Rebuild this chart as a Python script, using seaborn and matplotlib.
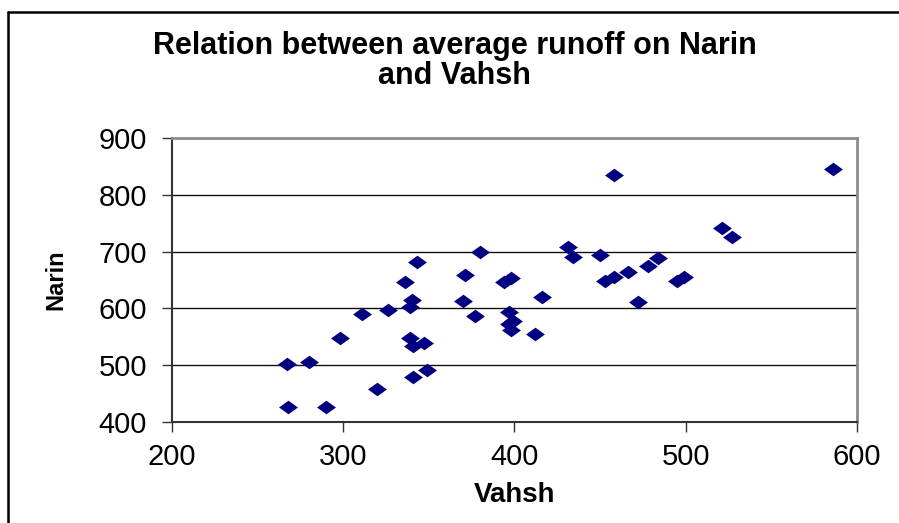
import numpy as np
import pandas as pd
import matplotlib
matplotlib.use("Agg")
import matplotlib.pyplot as plt
from matplotlib.lines import Line2D
import seaborn as sns

# average runoff values
vahsh = [267, 268, 280, 290, 298, 311, 320, 326, 336, 340, 339, 343, 339, 341, 347,
         341, 349, 371, 370, 380, 377, 394, 398, 397, 397, 399, 398, 412, 416, 431,
         434, 450, 458, 453, 458, 466, 472, 478, 484, 495, 499, 521, 527, 586]
narin = [502, 426, 505, 426, 547, 590, 458, 597, 646, 614, 603, 681, 547, 533, 539,
         479, 491, 658, 613, 699, 586, 647, 653, 594, 573, 577, 561, 554, 620, 709,
         690, 694, 836, 648, 656, 664, 611, 674, 688, 649, 656, 741, 725, 845]
x_ticks = [200, 300, 400, 500, 600]
y_ticks = [400, 500, 600, 700, 800, 900]

df = pd.DataFrame({"Vahsh": vahsh, "Narin": narin})

sns.set_style("white")
plt.rcParams["font.family"] = ["Liberation Sans", "DejaVu Sans"]
plt.rcParams["text.color"] = "black"
plt.rcParams["axes.labelcolor"] = "black"
plt.rcParams["xtick.color"] = "black"
plt.rcParams["ytick.color"] = "black"

fig = plt.figure(figsize=(8.99, 5.23), dpi=100)
ax = fig.add_axes([0.1913, 0.1937, 0.762, 0.5419])

diamond = [(-1, 0), (0, 0.72), (1, 0), (0, -0.72), (-1, 0)]
sns.scatterplot(data=df, x="Vahsh", y="Narin", ax=ax, marker=diamond, s=185,
                color="#000080", linewidth=0, zorder=3)

ax.set_xlim(200, 600)
ax.set_ylim(400, 900)
ax.set_xticks(x_ticks)
ax.set_yticks(y_ticks)
ax.yaxis.grid(True, color="#111111", linewidth=1)
ax.set_axisbelow(True)

for side in ["top", "right"]:
    ax.spines[side].set_color("#8c8c8c")
    ax.spines[side].set_linewidth(2)
for side in ["left", "bottom"]:
    ax.spines[side].set_color("#333333")
    ax.spines[side].set_linewidth(1.5)

ax.tick_params(axis="both", direction="out", length=7, width=1, color="#333333",
               labelsize=21, left=True, bottom=True)
ax.tick_params(axis="y", pad=11)
ax.tick_params(axis="x", pad=8)

ax.set_xlabel("Vahsh", fontsize=20, fontweight="bold")
ax.set_ylabel("Narin", fontsize=17, fontweight="bold")
ax.xaxis.set_label_coords(0.5, -0.213)
ax.yaxis.set_label_coords(-0.152, 0.5)

fig.text(0.506, 0.884, "Relation between average runoff on Narin\nand Vahsh",
         ha="center", va="center", fontsize=22, fontweight="bold", linespacing=1.0)

# outer chart frame (left and top edges visible)
fy = 1 - 12 / 523
fx = 8 / 899
fig.add_artist(Line2D([fx, fx], [0, fy], transform=fig.transFigure, color="black", linewidth=1.8))
fig.add_artist(Line2D([fx, 1], [fy, fy], transform=fig.transFigure, color="black", linewidth=1.8))

fig.savefig("out.png", dpi=100)
